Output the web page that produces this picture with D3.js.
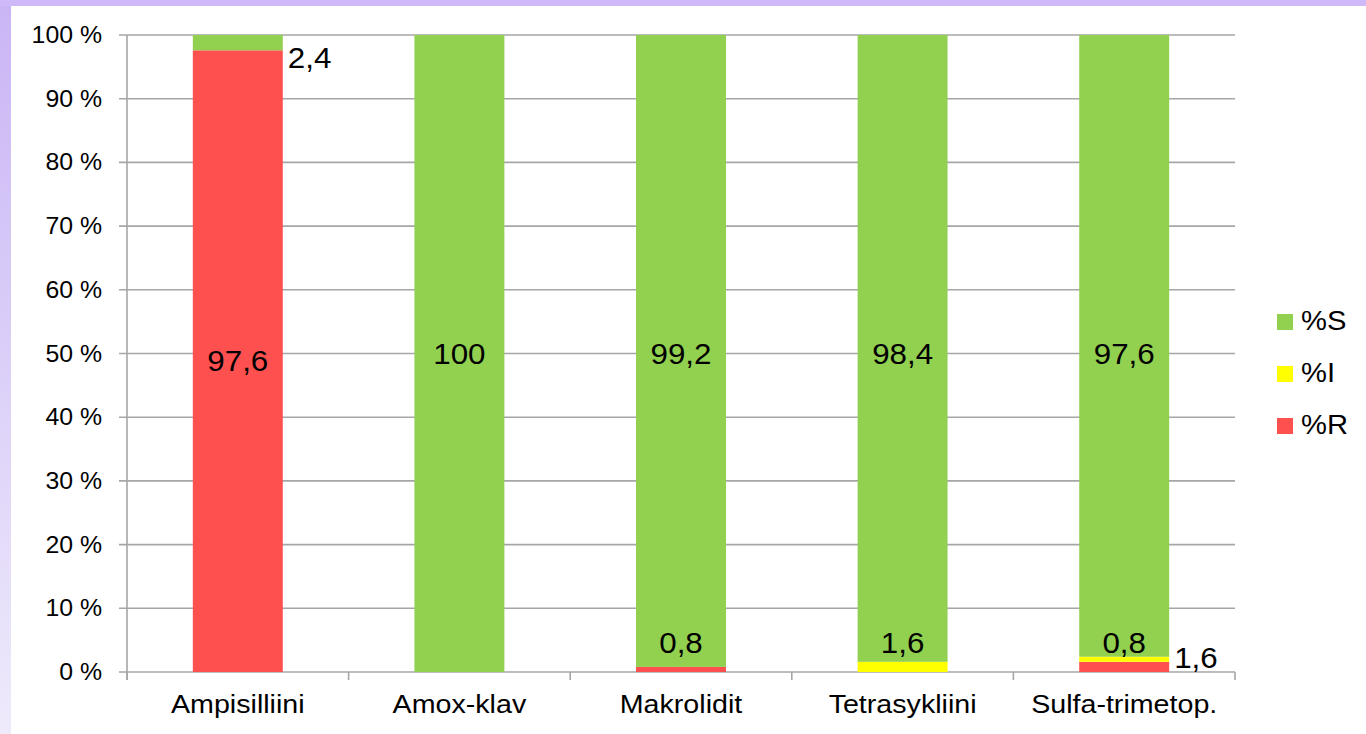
<!DOCTYPE html>
<html>
<head>
<meta charset="utf-8">
<script src="https://cdn.jsdelivr.net/npm/d3@7"></script>
<style>
  html, body { margin: 0; padding: 0; background: #fff; overflow: hidden; }
  svg { display: block; }
  text { font-family: "Liberation Sans", Arial, sans-serif; fill: #000; }
</style>
</head>
<body>
<svg id="chart" width="1366" height="734"></svg>
<script>
// ---- data ----
const categories = ["Ampisilliini", "Amox-klav", "Makrolidit", "Tetrasykliini", "Sulfa-trimetop."];
const seriesNames = ["%R", "%I", "%S"];
const valuesR = [97.6, 0, 0.8, 0, 1.6];
const valuesI = [0, 0, 0, 1.6, 0.8];
const valuesS = [2.4, 100, 99.2, 98.4, 97.6];
const yTicks = [0, 10, 20, 30, 40, 50, 60, 70, 80, 90, 100];
const legendOrder = ["%S", "%I", "%R"];

// label placement for small segments (others are centred)
const smallLabels = [
  { cat: "Ampisilliini", series: "%S", place: "right", dy: 23 },
  { cat: "Makrolidit", series: "%R", place: "above" },
  { cat: "Tetrasykliini", series: "%I", place: "above" },
  { cat: "Sulfa-trimetop.", series: "%I", place: "above" },
  { cat: "Sulfa-trimetop.", series: "%R", place: "right", dy: -4 }
];

const colors = { "%R": "#FF5050", "%I": "#FFFF00", "%S": "#92D050" };

// ---- layout ----
const W = 1366, H = 734;
const svg = d3.select("#chart");
const SX = 1.08;

// background decoration
const defs = svg.append("defs");
const grad = defs.append("linearGradient").attr("id", "side").attr("x1", 0).attr("y1", 0).attr("x2", 0).attr("y2", 1);
grad.append("stop").attr("offset", "0%").attr("stop-color", "#C9B5F5");
grad.append("stop").attr("offset", "100%").attr("stop-color", "#EEEAFB");
svg.append("rect").attr("x", 0).attr("y", 0).attr("width", W).attr("height", H).attr("fill", "#fff");
svg.append("rect").attr("x", 0).attr("y", 0).attr("width", 11).attr("height", H).attr("fill", "url(#side)");
svg.append("rect").attr("x", 0).attr("y", 0).attr("width", W).attr("height", 6).attr("fill", "#CFB9F9");

const plot = { left: 127, right: 1235, top: 35, bottom: 672 };

const x = d3.scaleBand().domain(categories).range([plot.left, plot.right]).paddingInner(0.594).paddingOuter(0.297);
const y = d3.scaleLinear().domain([0, 100]).range([plot.bottom, plot.top]);

const rows = categories.map((c, i) => ({ cat: c, "%R": valuesR[i], "%I": valuesI[i], "%S": valuesS[i] }));
const stacked = d3.stack().keys(seriesNames)(rows);

function txt(g, s, px, py, size, anchor) {
  return g.append("text")
    .attr("transform", `translate(${px},${py}) scale(${SX},1)`)
    .attr("text-anchor", anchor || "middle")
    .attr("font-size", size)
    .text(s);
}

// gridlines
const grid = svg.append("g");
yTicks.forEach(t => {
  grid.append("line")
    .attr("x1", plot.left - 8).attr("x2", plot.right)
    .attr("y1", y(t)).attr("y2", y(t))
    .attr("stroke", "#A6A6A6").attr("stroke-width", 1.6);
});

// bars
const barsG = svg.append("g");
stacked.forEach(layer => {
  layer.forEach(d => {
    const h = y(d[0]) - y(d[1]);
    if (h <= 0) return;
    barsG.append("rect")
      .attr("x", x(d.data.cat)).attr("width", x.bandwidth())
      .attr("y", y(d[1])).attr("height", h)
      .attr("fill", colors[layer.key]);
  });
});

// axes
const axG = svg.append("g");
axG.append("line").attr("x1", plot.left).attr("x2", plot.left).attr("y1", plot.top).attr("y2", plot.bottom + 8)
  .attr("stroke", "#A6A6A6").attr("stroke-width", 1.6);
const boundaries = categories.map(c => x(c) - x.step() * x.paddingOuter()).concat([plot.right]);
boundaries.forEach(bx => {
  axG.append("line").attr("x1", bx).attr("x2", bx).attr("y1", plot.bottom).attr("y2", plot.bottom + 8)
    .attr("stroke", "#A6A6A6").attr("stroke-width", 1.6);
});

// y tick labels
yTicks.forEach(t => {
  txt(axG, t + " %", plot.left - 25, y(t) + 8, 23, "end");
});

// category labels
categories.forEach(c => {
  txt(axG, c, x(c) + x.bandwidth() / 2, 713, 26.5, "middle");
});

// data labels
const fmt = v => String(v).replace(".", ",");
const lblG = svg.append("g");
stacked.forEach(layer => {
  layer.forEach(d => {
    const v = d.data[layer.key];
    if (!v) return;
    const special = smallLabels.find(s => s.cat === d.data.cat && s.series === layer.key);
    const cx = x(d.data.cat) + x.bandwidth() / 2;
    if (!special) {
      const cy = d[0] === 0 ? (y(d[0]) + y(d[1])) / 2 : y(50);
      txt(lblG, fmt(v), cx, cy + 10, 29, "middle");
    } else if (special.place === "above") {
      txt(lblG, fmt(v), cx, y(0) - 29 + 10, 29, "middle");
    } else {
      txt(lblG, fmt(v), x(d.data.cat) + x.bandwidth() + 5, y(d[1]) + special.dy + 10, 29, "start");
    }
  });
});

// legend
const legG = svg.append("g");
legendOrder.forEach((k, i) => {
  const ly = 322 + i * 52;
  legG.append("rect").attr("x", 1277).attr("y", ly - 8).attr("width", 16).attr("height", 16).attr("fill", colors[k]);
  txt(legG, k, 1301, ly + 8, 27, "start");
});
</script>
</body>
</html>
